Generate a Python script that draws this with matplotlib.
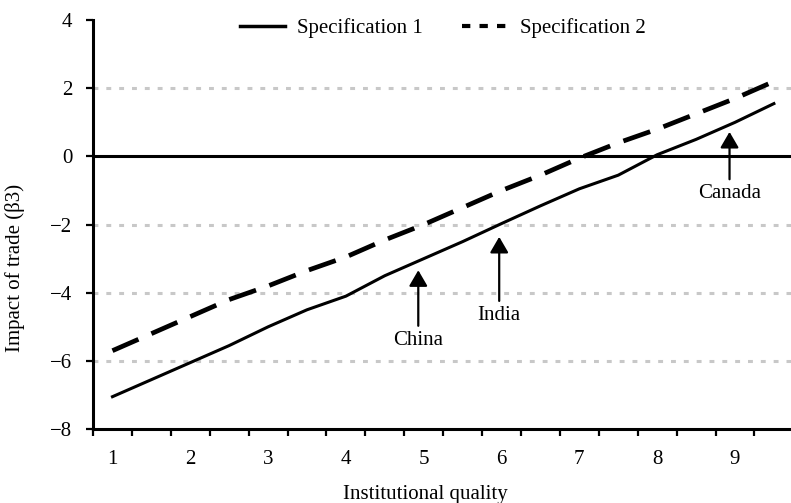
import matplotlib.pyplot as plt
from matplotlib.lines import Line2D

plt.rcParams['font.family'] = ['Liberation Serif', 'DejaVu Serif']
plt.rcParams['font.size'] = 15

# Institutional quality steps
quality = [1, 1.5, 2, 2.5, 3, 3.5, 4, 4.5, 5, 5.5, 6, 6.5, 7, 7.5, 8, 8.5, 9, 9.5]

# Impact of trade under the two specifications
spec1 = [-7.05, -6.55, -6.05, -5.55, -5.0, -4.5, -4.1, -3.5, -3.0, -2.5,
         -1.97, -1.45, -0.95, -0.55, 0.05, 0.5, 1.0, 1.55]
spec2 = [-5.7, -5.2, -4.7, -4.2, -3.8, -3.35, -2.95, -2.45, -2.0, -1.5,
         -1.0, -0.55, -0.05, 0.4, 0.8, 1.25, 1.7, 2.2]

# Country markers: (name, quality, impact at arrow tip)
countries = ['China', 'India', 'Canada']
country_x = [4.93, 5.97, 8.93]
country_y = [-3.34, -2.36, 0.72]
label_y = [-5.39, -4.66, -1.09]

fig = plt.figure(figsize=(7.91, 5.03), dpi=100)
ax = fig.add_axes([0.1176, 0.147, 0.8824, 0.813])

# light dotted reference lines
for g in [2, -2, -4, -6]:
    ax.axhline(g, color='#c8c8c8', lw=2.2, dashes=(1.6, 2.6), zorder=1)
ax.axhline(0, color='black', lw=2.2, zorder=2)

ax.plot(quality, spec1, color='black', lw=2.2, zorder=3)
ax.plot(quality, spec2, color='black', lw=3.4, dashes=(6.0, 3.0), zorder=3)

for name, cx, cy, ly in zip(countries, country_x, country_y, label_y):
    ax.annotate('', xy=(cx, cy), xytext=(cx, ly + 0.42),
                arrowprops=dict(arrowstyle='-|>,head_length=0.6,head_width=0.35',
                                mutation_scale=16, lw=1.6, color='black',
                                shrinkA=0, shrinkB=0))
    ax.text(cx, ly, name, ha='center', va='center')

ax.set_xlim(0.75, 9.72)
ax.set_ylim(-8, 4)

# tick marks sit between the integer labels
ax.set_xticks([0.75 + 0.5 * k for k in range(18)])
ax.set_xticklabels([])
ax.set_xticks(range(1, 10), minor=True)
ax.set_xticklabels([str(i) for i in range(1, 10)], minor=True)
ax.tick_params(axis='x', which='major', length=5, width=1.6, direction='out')
ax.tick_params(axis='x', which='minor', length=0, pad=15)

ax.set_yticks([-8, -6, -4, -2, 0, 2, 4])
ax.tick_params(axis='y', length=5, width=1.6, pad=10)

for side in ['top', 'right']:
    ax.spines[side].set_visible(False)
for side in ['left', 'bottom']:
    ax.spines[side].set_linewidth(2.2)

fig.text(15 / 791, 1 - 268 / 503, 'Impact of trade (β3)', rotation=90,
         ha='center', va='center')
fig.text(425 / 791, 1 - 494 / 503, 'Institutional quality',
         ha='center', va='center')

handles = [Line2D([], [], color='black', lw=2.5),
           Line2D([], [], color='black', lw=3, dashes=(2, 2.2))]
fig.legend(handles, ['Specification 1', 'Specification 2'], ncol=2,
           loc='center', bbox_to_anchor=(0.5594, 0.944), frameon=False,
           handlelength=2.16, handletextpad=0.58, columnspacing=1.92)

fig.savefig('out.png', dpi=100)
